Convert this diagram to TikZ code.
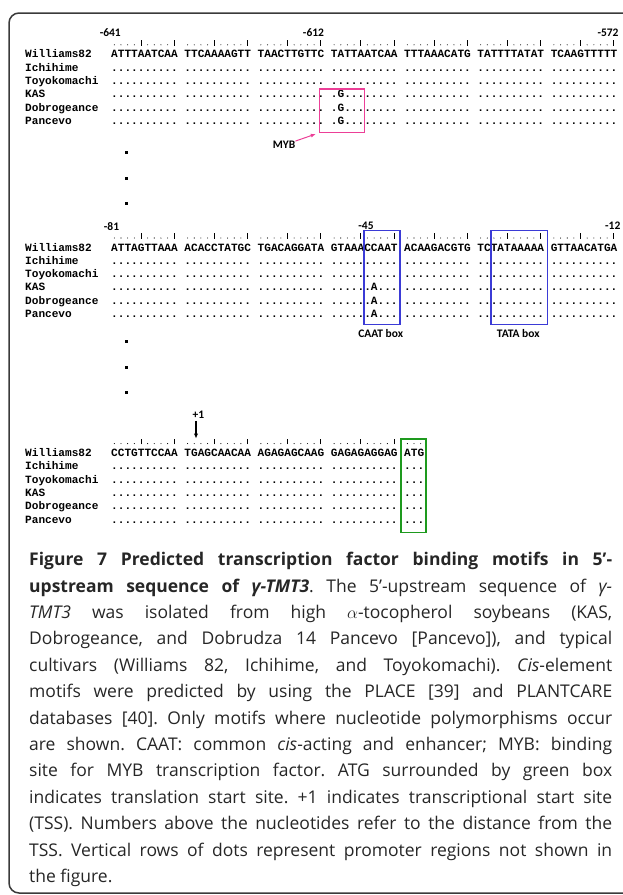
\documentclass[tikz,border=0pt]{standalone}
\usepackage{fontspec}
\usepackage{tikz}
\usetikzlibrary{arrows.meta}
\setmainfont{Open Sans}
\newfontfamily\seqfont{Liberation Mono}
\newfontfamily\lblfont{Carlito}
\definecolor{mybpink}{HTML}{EC3F97}
\definecolor{boxblue}{HTML}{3B3BD6}
\definecolor{atggreen}{HTML}{1E9A1E}
\definecolor{framegray}{HTML}{3A3A3A}

% rows of identical bases
\newcommand\dg{..........}
\newcommand\dotrow{\dg{} \dg{} \dg{} \dg{} \dg{} \dg{} \dg}
\newcommand\mybrow{\dg{} \dg{} \dg{} .G........ \dg{} \dg{} \dg}
\newcommand\caatrow{\dg{} \dg{} \dg{} ......A... \dg{} \dg{} \dg}
\newcommand\atgrow{\dg{} \dg{} \dg{} \dg{} ...}

% ruler above a block: baseline, number of groups of ten
\newcommand\rulerrow[2]{%
  \foreach \g in {1,...,#2}{
    \foreach \i in {1,...,10}{
      \pgfmathsetmacro\cx{114.33+6.66*(11*(\g-1)+\i-1)}
      \pgfmathtruncatemacro\tick{mod(\i,5)}
      \ifnum\tick=0
        \draw[rulerbar] (\cx,#1) -- (\cx,#1-5.5);
      \else
        \fill (\cx,#1-0.7) circle[radius=0.55];
      \fi
    }
  }
}

\begin{document}
\begin{tikzpicture}[x=1pt, y=-1pt,
  seqname/.style={font=\seqfont\bfseries\fontsize{11.1}{13}\selectfont, inner sep=0, anchor=base west},
  seqtext/.style={font=\seqfont\bfseries\fontsize{11.1}{13}\selectfont\frenchspacing, inner sep=0, anchor=base west},
  lbl/.style={font=\lblfont\bfseries\fontsize{11.5}{13}\selectfont, inner sep=0},
  sqdot/.style={rectangle, fill=black, minimum size=3.2, inner sep=0},
  rulerbar/.style={line width=0.7},
  motif/.style={draw, line width=1.3, inner sep=0},
  capline/.style={font=\fontsize{17.5}{20}\selectfont\frenchspacing, text=black!85, inner sep=0, anchor=base west},
]
\useasboundingbox (0,0) rectangle (623,895);
\draw[framegray, line width=1.5, rounded corners=10] (640,13) -- (9,13) -- (9,893) -- (640,893);

% block 1
\node[lbl] (p641) at (110.3,32.3) {-641};
\node[lbl] (p612) at (313.5,32.3) {-612};
\node[lbl] (p572) at (608,32.3) {-572};
\rulerrow{45.5}{7}
\foreach \nm [count=\r] in {Williams82,Ichihime,Toyokomachi,KAS,Dobrogeance,Pancevo}
  \node[seqname] (na\r) at (25,{44.5+13.3*\r}) {\nm};
\foreach \sq [count=\r] in {
  {ATTTAATCAA TTCAAAAGTT TAACTTGTTC TATTAATCAA TTTAAACATG TATTTTATAT TCAAGTTTTT},
  \dotrow, \dotrow, \mybrow, \mybrow, \mybrow}
  \node[seqtext] (sa\r) at (111,{44.5+13.3*\r}) {\sq};
\node[motif, draw=mybpink, minimum width=45, minimum height=43.3] (mybbox) at (341.8,110.7) {};
\node[lbl] (myb) at (284,145) {MYB};
\draw[mybpink, line width=1, -{Latex[length=5pt,width=4pt]}, shorten >=3] (myb.north east) -- (mybbox.south west);

\foreach \yy [count=\k] in {152.7,178.3,203.3,341.7,367.7,392.7}
  \node[sqdot] (gap\k) at (126.5,\yy) {};

% block 2
\node[lbl] (p81) at (111.5,226.5) {-81};
\node[lbl] (p45) at (366,225.5) {-45};
\node[lbl] (p12) at (612.8,225.5) {-12};
\rulerrow{238.7}{7}
\foreach \nm [count=\r] in {Williams82,Ichihime,Toyokomachi,KAS,Dobrogeance,Pancevo}
  \node[seqname] (nb\r) at (25,{237.7+13.3*\r}) {\nm};
\foreach \sq [count=\r] in {
  {ATTAGTTAAA ACACCTATGC TGACAGGATA GTAAACCAAT ACAAGACGTG TCTATAAAAA GTTAACATGA},
  \dotrow, \dotrow, \caatrow, \caatrow, \caatrow}
  \node[seqtext] (sb\r) at (111,{237.7+13.3*\r}) {\sq};
\node[motif, draw=boxblue, minimum width=36, minimum height=93.6] (caatbox) at (382,277.5) {};
\node[motif, draw=boxblue, minimum width=56.3, minimum height=93.6] (tatabox) at (519.2,277.5) {};
\node[lbl] (caat) at (380.7,333.5) {CAAT box};
\node[lbl] (tata) at (518.3,333.5) {TATA box};

% block 3
\node[lbl] (tss) at (198.3,415) {+1};
\coordinate (tsstip) at (196,438.5);
\draw[line width=1.2, -{Latex[length=5pt,width=4.5pt]}] (tss.south -| tsstip) ++(0,2) -- (tsstip);
\rulerrow{444.3}{4}
\foreach \i in {1,2,3}
  \fill ({114.33+6.66*(43+\i)},443.6) circle[radius=0.55];
\foreach \nm [count=\r] in {Williams82,Ichihime,Toyokomachi,KAS,Dobrogeance,Pancevo}
  \node[seqname] (nc\r) at (25,{443.3+13.3*\r}) {\nm};
\foreach \sq [count=\r] in {
  {CCTGTTCCAA TGAGCAACAA AGAGAGCAAG GAGAGAGGAG ATG},
  \atgrow, \atgrow, \atgrow, \atgrow, \atgrow}
  \node[seqtext] (sc\r) at (111,{443.3+13.3*\r}) {\sq};
\node[motif, draw=atggreen, minimum width=25, minimum height=93.3] (atgbox) at (413.5,485.7) {};

% caption
\foreach \ln [count=\k] in {
  {\textbf{Figure 7 Predicted transcription factor binding motifs in 5’-}},
  {\textbf{upstream sequence of \textit{γ-TMT3}}. The 5’-upstream sequence of \textit{γ-}},
  {\textit{TMT3} was isolated from high $\alpha$-tocopherol soybeans (KAS,},
  {Dobrogeance, and Dobrudza 14 Pancevo [Pancevo]), and typical},
  {cultivars (Williams 82, Ichihime, and Toyokomachi). \textit{Cis}-element},
  {motifs were predicted by using the PLACE [39] and PLANTCARE},
  {databases [40]. Only motifs where nucleotide polymorphisms occur},
  {are shown. CAAT: common \textit{cis}-acting and enhancer; MYB: binding},
  {site for MYB transcription factor. ATG surrounded by green box},
  {indicates translation start site. +1 indicates transcriptional start site},
  {(TSS). Numbers above the nucleotides refer to the distance from the},
  {TSS. Vertical rows of dots represent promoter regions not shown in}}
  \node[capline] (cap\k) at (29,{539.3+26.4*\k}) {\makebox[583pt][s]{\ln}};
\node[capline] (cap13) at (29,882.5) {the figure.};
\end{tikzpicture}
\end{document}
